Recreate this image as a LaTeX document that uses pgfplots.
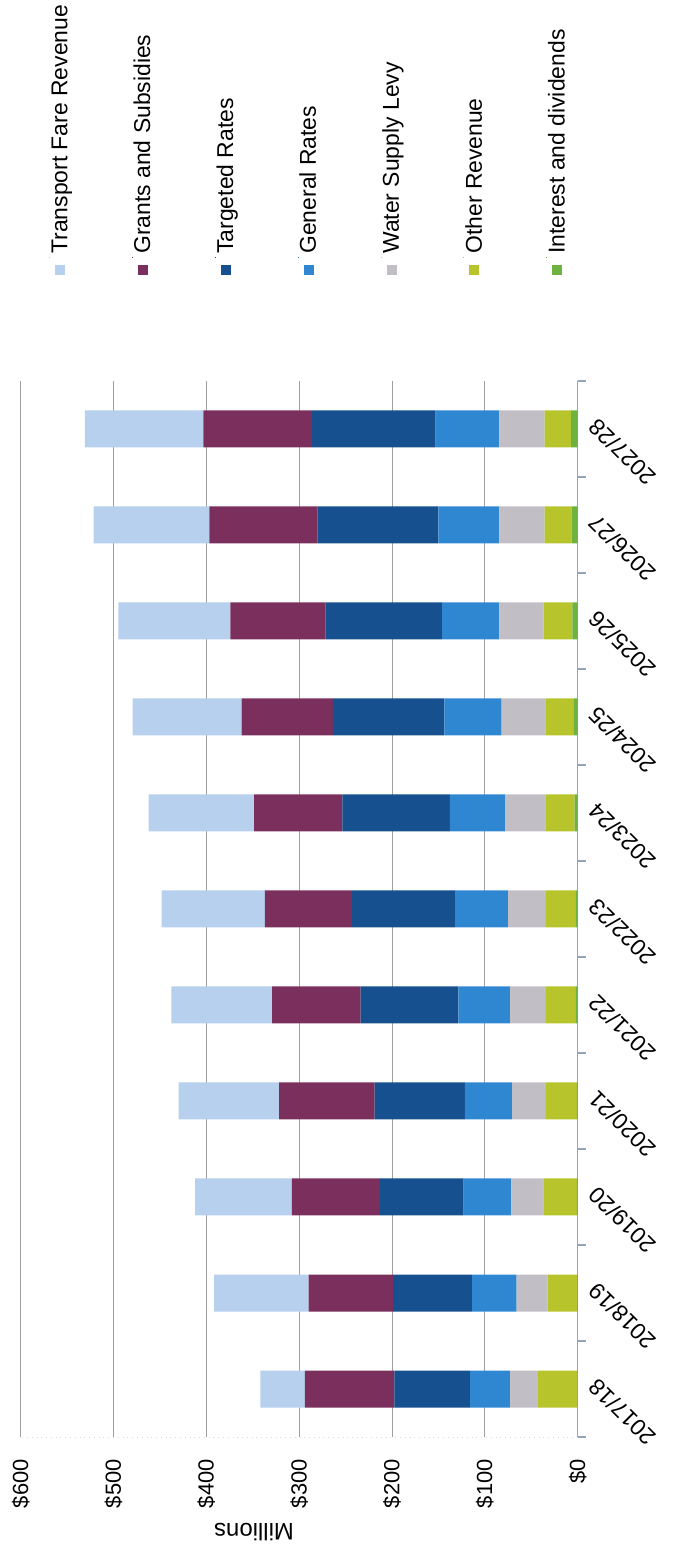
\documentclass[border=0pt]{standalone}
\usepackage{fontspec}
\setmainfont{Liberation Sans}
\usepackage{graphicx}
\usepackage{pgfplots}
\usepackage{pgfplotstable}
\pgfplotsset{compat=1.18}
\definecolor{cTrans}{HTML}{B7D0EE}
\definecolor{cGrant}{HTML}{7A2F5C}
\definecolor{cTarg}{HTML}{16508F}
\definecolor{cGen}{HTML}{2F87D2}
\definecolor{cWater}{HTML}{C1BFC5}
\definecolor{cOther}{HTML}{B8C42C}
\definecolor{cInt}{HTML}{6DB33F}
\definecolor{cAxis}{HTML}{93A3B8}
\pgfplotsset{sqlegend/.style={legend image code/.code={\path (0bp,0bp) rectangle (0.1bp,0.1bp); \fill[##1,draw=none,overlay] (3bp,-4bp) rectangle (8bp,-9bp);}}}
\pgfplotstableread{
idx Interest Other Water General Targeted Grants Transport
0  0.3 42.4 30.1 43.1  81.6  96.4  47.8
1  0.5 32.0 33.3 47.8  85.3  90.9 101.9
2  0.8 36.3 34.3 51.5  89.9  95.0 104.4
3  1.0 33.3 36.2 51.0  97.3 102.9 108.1
4  2.0 32.3 38.5 55.6 105.3  95.5 108.4
5  2.0 32.3 40.7 57.0 111.0  94.0 111.3
6  3.2 31.6 43.5 59.4 115.9  95.0 113.6
7  4.6 30.2 47.2 61.7 120.1  98.2 117.4
8  5.6 31.0 47.8 61.6 125.7 102.4 120.6
9  6.5 29.2 48.7 65.8 130.2 116.4 124.6
10 7.0 28.7 48.7 68.6 133.0 117.3 127.5
}\datatable
\newcommand{\lt}[1]{\rotatebox{90}{\strut #1}}
\begin{document}
\begin{tikzpicture}
\begin{axis}[
  xbar stacked,
  x dir=reverse,
  scale only axis,
  width=278.5bp, height=528bp,
  bar width=18.5bp,
  xmin=0, xmax=600, ymin=-0.5, ymax=10.5,
  separate axis lines,
  axis x line*=bottom, axis y line*=right,
  x axis line style={draw=gray!30, dotted},
  y axis line style={draw=cAxis, line width=0.6pt},
  xtick={0,100,...,600},
  xticklabels={\$0,\$100,\$200,\$300,\$400,\$500,\$600},
  xtick style={draw=none},
  xtick align=inside,
  xticklabel style={yshift=-11bp, rotate=90, anchor=east, inner sep=0pt, font=\fontsize{11}{13}\selectfont},
  ytick={0,...,10},
  yticklabels={2017/18,2018/19,2019/20,2020/21,2021/22,2022/23,2023/24,2024/25,2025/26,2026/27,2027/28},
  minor ytick={-0.5,0.5,...,10.5},
  major y tick style={draw=none},
  minor y tick style={draw=cAxis, line width=0.6pt},
  minor tick length=4bp,
  ytick align=outside,
  yticklabel style={xshift=0bp, rotate=135, anchor=north east, inner sep=0pt, font=\fontsize{11.5}{13}\selectfont},
  xmajorgrids,
  major grid style={draw=gray!75, line width=0.5pt},
  xlabel={Millions},
  xlabel style={at={(axis description cs:0.419,-0.09)}, anchor=center, rotate=180, font=\fontsize{12}{14}\selectfont},
  reverse legend,
  legend columns=7,
  legend style={at={(axis description cs:0.050,1.117)}, anchor=south west, draw=none, fill=none,
    inner sep=0pt, font=\fontsize{11.5}{13}\selectfont,
    cells={anchor=south west},
    nodes={inner sep=0pt},
    /tikz/every odd column/.append style={column sep=0pt},
    /tikz/every even column/.append style={column sep=28.4bp}},
]
\addplot[fill=cInt, draw=none, sqlegend] table[y=idx, x=Interest] {\datatable};
\addplot[fill=cOther, draw=none, sqlegend] table[y=idx, x=Other] {\datatable};
\addplot[fill=cWater, draw=none, sqlegend] table[y=idx, x=Water] {\datatable};
\addplot[fill=cGen, draw=none, sqlegend] table[y=idx, x=General] {\datatable};
\addplot[fill=cTarg, draw=none, sqlegend] table[y=idx, x=Targeted] {\datatable};
\addplot[fill=cGrant, draw=none, sqlegend] table[y=idx, x=Grants] {\datatable};
\addplot[fill=cTrans, draw=none, sqlegend] table[y=idx, x=Transport] {\datatable};
\legend{\lt{Interest and dividends},\lt{Other Revenue},\lt{Water Supply Levy},\lt{General Rates},\lt{Targeted Rates},\lt{Grants and Subsidies},\lt{Transport Fare Revenue}}
\end{axis}
\pgfresetboundingbox
\path[use as bounding box] ([shift={(-149.6bp,-57.5bp)}]current axis.south) rectangle ([shift={(187.45bp,190.5bp)}]current axis.north);
\end{tikzpicture}
\end{document}
